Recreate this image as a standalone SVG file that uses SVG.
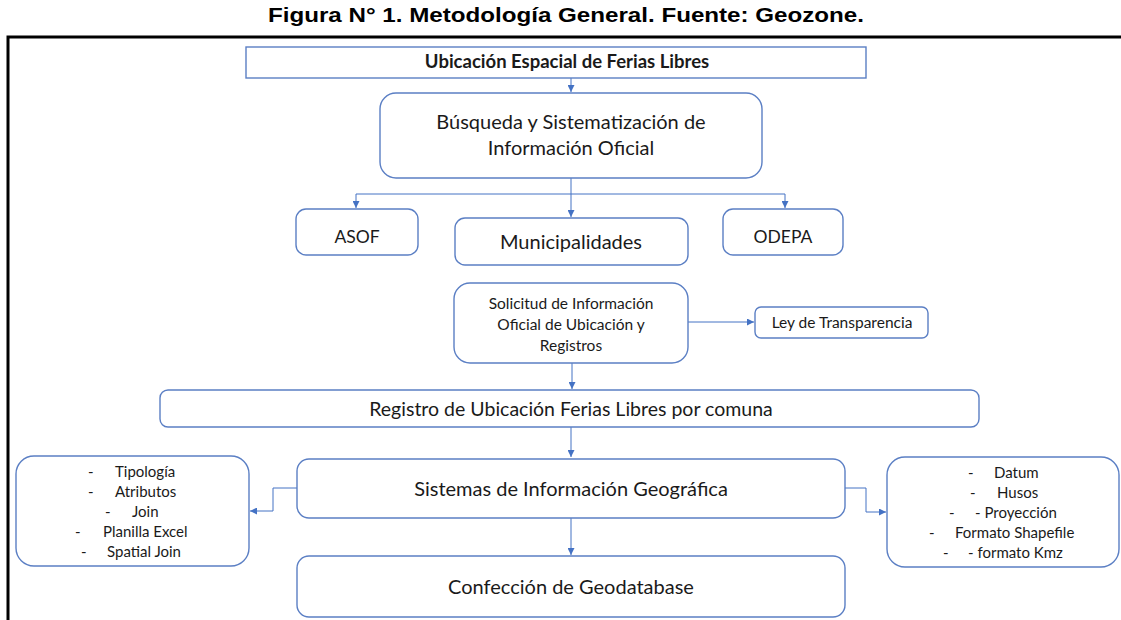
<svg xmlns="http://www.w3.org/2000/svg" width="1121" height="620" viewBox="0 0 1121 620">
<defs>
<marker id="ah" viewBox="0 0 10 10" refX="10" refY="5" markerWidth="7" markerHeight="7" markerUnits="userSpaceOnUse" orient="auto">
<path d="M0,0 L10,5 L0,10 z" fill="#4472C4"/>
</marker>
<style>
.box{fill:#fff;stroke:#5B7FC4;stroke-width:1.4}
.t{font-family:Lato,"Liberation Sans",sans-serif;fill:#1a1a1a;text-anchor:middle}
.l{font-family:Lato,"Liberation Sans",sans-serif;fill:#1a1a1a;font-size:15px}
.c{fill:none;stroke:#4472C4;stroke-width:1;marker-end:url(#ah)}
</style>
</defs>
<rect width="1121" height="620" fill="#fff"/>
<text x="566" y="22" font-family="Liberation Sans,Arial,sans-serif" font-weight="bold" font-size="21" text-anchor="middle" textLength="596" lengthAdjust="spacingAndGlyphs" fill="#000">Figura N° 1. Metodología General. Fuente: Geozone.</text>
<path d="M8,620 V37 H1121" fill="none" stroke="#000" stroke-width="3"/>

<g id="connectors">
<path class="c" d="M571,78 V92"/>
<path class="c" d="M571,178 V217"/>
<path class="c" d="M356,194 H785 V208"/>
<path class="c" d="M356,194 V208"/>
<path class="c" d="M688,322 H754"/>
<path class="c" d="M572,363 V389"/>
<path class="c" d="M571,427 V457"/>
<path class="c" d="M571,518 V555"/>
<path class="c" d="M297,488 H273 V511 H250"/>
<path class="c" d="M845,488 H866 V512 H886"/>
</g>

<g id="n1">
<rect x="246" y="47" width="620" height="31" fill="#fff" stroke="#5B7FC4" stroke-width="1.4"/>
<text class="t" x="567" y="68" font-size="18.5" font-weight="bold">Ubicación Espacial de Ferias Libres</text>
</g>
<g id="n2">
<rect class="box" x="380" y="93" width="382" height="85" rx="16"/>
<text class="t" x="571" y="129" font-size="20">Búsqueda y Sistematización de</text>
<text class="t" x="571" y="155" font-size="20">Información Oficial</text>
</g>
<g id="n3">
<rect class="box" x="296" y="209" width="122" height="46" rx="10"/>
<text class="t" x="357" y="243" font-size="17.5">ASOF</text>
</g>
<g id="n4">
<rect class="box" x="455" y="218" width="233" height="47" rx="10"/>
<text class="t" x="571" y="249" font-size="20">Municipalidades</text>
</g>
<g id="n5">
<rect class="box" x="723" y="209" width="120" height="46" rx="10"/>
<text class="t" x="783" y="243" font-size="17.5">ODEPA</text>
</g>
<g id="n6">
<rect class="box" x="454" y="283" width="234" height="80" rx="16"/>
<text class="t" x="571" y="309" font-size="15.5">Solicitud de Información</text>
<text class="t" x="571" y="330" font-size="15.5">Oficial de Ubicación y</text>
<text class="t" x="571" y="351" font-size="15.5">Registros</text>
</g>
<g id="n7">
<rect class="box" x="755" y="307" width="173" height="31" rx="6"/>
<text class="t" x="842" y="328" font-size="15.5">Ley de Transparencia</text>
</g>
<g id="n8">
<rect class="box" x="160" y="390" width="819" height="37" rx="8"/>
<text class="t" x="571" y="416" font-size="19.5">Registro de Ubicación Ferias Libres por comuna</text>
</g>
<g id="n9">
<rect class="box" x="297" y="459" width="548" height="59" rx="12"/>
<text class="t" x="571" y="496" font-size="20">Sistemas de Información Geográfica</text>
</g>
<g id="n10">
<rect class="box" x="297" y="556" width="548" height="61" rx="12"/>
<text class="t" x="571" y="594" font-size="20">Confección de Geodatabase</text>
</g>
<g id="n11">
<rect class="box" x="16" y="456" width="233" height="110" rx="18"/>
<text class="l" x="88" y="477">-</text><text class="l" x="115" y="477">Tipología</text>
<text class="l" x="88" y="497">-</text><text class="l" x="115" y="497">Atributos</text>
<text class="l" x="105" y="517">-</text><text class="l" x="132" y="517">Join</text>
<text class="l" x="75" y="537">-</text><text class="l" x="103" y="537">Planilla Excel</text>
<text class="l" x="81" y="557">-</text><text class="l" x="107" y="557">Spatial Join</text>
</g>
<g id="n12">
<rect class="box" x="887" y="457" width="232" height="110" rx="18"/>
<text class="l" x="968" y="478">-</text><text class="l" x="994" y="478">Datum</text>
<text class="l" x="970" y="498">-</text><text class="l" x="997" y="498">Husos</text>
<text class="l" x="949" y="518">-</text><text class="l" x="975" y="518">- Proyección</text>
<text class="l" x="929" y="538">-</text><text class="l" x="955" y="538">Formato Shapefile</text>
<text class="l" x="943" y="558">-</text><text class="l" x="968" y="558">- formato Kmz</text>
</g>
</svg>
